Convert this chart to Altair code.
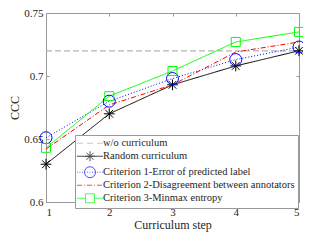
import altair as alt
import pandas as pd

# ---- data ----
steps = [1, 2, 3, 4, 5]
series_names = [
    "w/o curriculum",
    "Random curriculum",
    "Criterion 1-Error of predicted label",
    "Criterion 2-Disagreement between annotators",
    "Criterion 3-Minmax entropy",
]
wo_curriculum = [0.720, 0.720, 0.720, 0.720, 0.720]
random_curriculum = [0.630, 0.670, 0.693, 0.708, 0.720]
criterion1 = [0.651, 0.680, 0.698, 0.713, 0.723]
criterion2 = [0.642, 0.677, 0.693, 0.719, 0.727]
criterion3 = [0.643, 0.684, 0.704, 0.727, 0.735]
x_ticks = [1, 2, 3, 4, 5]
y_ticks = [0.6, 0.65, 0.7, 0.75]

rows = []
for name, vals in zip(series_names,
                      [wo_curriculum, random_curriculum, criterion1, criterion2, criterion3]):
    for s, v in zip(steps, vals):
        rows.append({"step": s, "ccc": v, "series": name})
df = pd.DataFrame(rows)

# ---- styles ----
W, H = 253, 189
FRAME = "#999999"
TEXT = "#262626"
FONT = "Liberation Serif"
colors = ["#b4b4b4", "#000000", "#0000ff", "#ff0000", "#00ff00"]
dashes = [[1, 0], [1, 2], [5, 2, 1, 2], [1, 0]]

asterisk = "M-0.9,0H0.9M0,-0.9V0.9M-0.64,-0.64L0.64,0.64M-0.64,0.64L0.64,-0.64"
square = "M-0.75,-0.75H0.75V0.75H-0.75Z"
# random: asterisk, criterion 1: circle, criterion 2: no marker, criterion 3: square
marker_shapes = [asterisk, "circle", "M0,0", square]

# legend glyphs: a 26px line sample with the marker in its middle (shifted by C)
C = 6.75


def seg(x0, x1):
    return f"M{x0 + C},0H{x1 + C}"


def circ(r):
    return f"M{r + C},0A{r},{r},0,1,1,{-r + C},0A{r},{r},0,1,1,{r + C},0"


def star(r):
    d = round(r * 0.7, 2)
    return (f"M{-r + C},0H{r + C}M{C},{-r}V{r}"
            f"M{-d + C},{-d}L{d + C},{d}M{-d + C},{d}L{d + C},{-d}")


def box(h):
    return f"M{-h + C},{-h}H{h + C}V{h}H{-h + C}Z"


leg_wo = seg(-13, -7) + seg(-3, 3) + seg(7, 13)
leg_random = seg(-13, 13) + star(5)
leg_c1 = "".join(seg(round(-13 + 2.5 * i, 2), round(-12.2 + 2.5 * i, 2)) for i in range(11)) + circ(5.5)
leg_c2 = seg(-13, -8) + seg(-6, -5) + seg(-3, 2) + seg(4, 5) + seg(7, 12)
leg_c3 = seg(-13, -4.5) + seg(4.5, 13) + box(4.5)
legend_paths = [leg_wo, leg_random, leg_c1, leg_c2, leg_c3]

xscale = alt.Scale(domain=[1, 5], nice=False, zero=False)
yscale = alt.Scale(domain=[0.6, 0.75], nice=False, zero=False)


def tick_axis(orient, values, offset):
    return alt.Axis(orient=orient, values=values, offset=offset, labels=False,
                    domain=False, grid=False, ticks=True, tickSize=3,
                    tickColor=FRAME, tickWidth=1, title=None)


main_x = alt.Axis(orient="bottom", values=x_ticks, format="d", ticks=False,
                  domain=False, grid=False, labelFont=FONT, labelFontSize=11,
                  labelColor=TEXT, labelPadding=4, title="Curriculum step",
                  titleFont=FONT, titleFontSize=12, titleFontWeight="normal",
                  titleColor=TEXT, titlePadding=2)
main_y = alt.Axis(orient="left", values=y_ticks, format="~g", ticks=False,
                  domain=False, grid=False, labelFont=FONT, labelFontSize=11,
                  labelColor=TEXT, labelPadding=3, title="CCC",
                  titleFont=FONT, titleFontSize=12, titleFontWeight="normal",
                  titleColor=TEXT, titlePadding=2)

base = alt.Chart(df)

baseline = base.transform_filter(alt.datum.series == series_names[0]).mark_line(
    color=colors[0], strokeWidth=1.2, strokeDash=[6, 3]
).encode(
    x=alt.X("step:Q", scale=xscale, axis=main_x),
    y=alt.Y("ccc:Q", scale=yscale, axis=main_y),
)

curve_names = series_names[1:]
lines = base.transform_filter(alt.datum.series != series_names[0]).mark_line(
    strokeWidth=1
).encode(
    x=alt.X("step:Q", scale=xscale, axis=tick_axis("top", x_ticks, -H)),
    y=alt.Y("ccc:Q", scale=yscale, axis=tick_axis("right", y_ticks, -W)),
    color=alt.Color("series:N", scale=alt.Scale(domain=curve_names, range=colors[1:]), legend=None),
    strokeDash=alt.StrokeDash("series:N", scale=alt.Scale(domain=curve_names, range=dashes), legend=None),
)

points = base.transform_filter(alt.datum.series != series_names[0]).mark_point(
    filled=False, strokeWidth=1, size=144, opacity=1
).encode(
    x=alt.X("step:Q", scale=xscale, axis=tick_axis("bottom", x_ticks, -H)),
    y=alt.Y("ccc:Q", scale=yscale, axis=tick_axis("left", y_ticks, -W)),
    color=alt.Color("series:N", scale=alt.Scale(domain=curve_names, range=colors[1:]), legend=None),
    shape=alt.Shape("series:N", scale=alt.Scale(domain=curve_names, range=marker_shapes), legend=None),
)


def make_legend():
    return alt.Legend(title=None, orient="none", legendX=29, legendY=122,
                      padding=3, strokeColor=FRAME, fillColor="white",
                      labelFont=FONT, labelFontSize=10.5, labelColor=TEXT,
                      labelLimit=400, symbolSize=4, symbolStrokeWidth=1,
                      rowPadding=0, symbolOffset=0, labelOffset=14.5,
                      cornerRadius=0)


legend_layer = base.transform_filter("datum.step > 100").mark_point(
    filled=False, strokeWidth=1
).encode(
    color=alt.Color("series:N", scale=alt.Scale(domain=series_names, range=colors), legend=make_legend()),
    shape=alt.Shape("series:N", scale=alt.Scale(domain=series_names, range=legend_paths), legend=make_legend()),
)

chart = alt.layer(baseline, lines, points, legend_layer).resolve_scale(
    color="independent", shape="independent", strokeDash="independent"
).resolve_axis(
    x="independent", y="independent"
).properties(
    width=W, height=H,
    autosize=alt.AutoSizeParams(type="none"),
    padding={"left": 38, "top": 5, "right": 4, "bottom": 31},
).configure(font=FONT).configure_view(stroke=FRAME, strokeWidth=1).configure_legend(
    labelFont=FONT, labelFontSize=10.5, labelColor=TEXT, labelLimit=400
)

chart.save("out.html", embed_options={"renderer": "svg", "actions": False})
